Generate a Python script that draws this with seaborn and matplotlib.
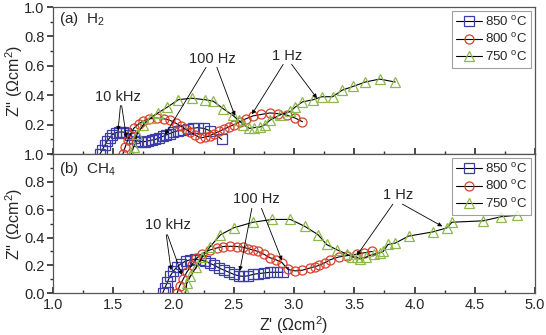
import matplotlib
matplotlib.use("Agg")
import matplotlib.pyplot as plt
import seaborn as sns
from matplotlib.ticker import MultipleLocator

# ---------------- data ----------------
# (a) H2
h2_850_x = [1.39,1.41,1.43,1.45,1.47,1.49,1.52,1.55,1.58,1.61,1.64,1.67,1.70,1.73,1.76,1.79,1.82,1.85,1.88,1.91,1.94,1.97,2.00,2.04,2.08,2.12,2.16,2.20,2.25,2.30,2.40]
h2_850_y = [0.0,0.03,0.06,0.09,0.11,0.13,0.145,0.15,0.15,0.145,0.13,0.11,0.09,0.085,0.085,0.09,0.095,0.10,0.11,0.12,0.13,0.14,0.15,0.16,0.165,0.17,0.175,0.18,0.175,0.16,0.10]
h2_800_x = [1.58,1.60,1.62,1.64,1.67,1.71,1.75,1.80,1.86,1.92,1.97,2.02,2.06,2.10,2.14,2.18,2.22,2.26,2.30,2.34,2.38,2.42,2.46,2.50,2.55,2.60,2.66,2.73,2.80,2.87,2.94,3.01,3.07]
h2_800_y = [0.0,0.05,0.095,0.13,0.175,0.205,0.225,0.24,0.245,0.24,0.23,0.21,0.19,0.17,0.15,0.13,0.11,0.115,0.125,0.14,0.155,0.17,0.185,0.20,0.22,0.24,0.26,0.27,0.28,0.275,0.265,0.245,0.22]
h2_750_x = [1.65,1.67,1.70,1.75,1.81,1.87,1.95,2.04,2.15,2.26,2.33,2.41,2.49,2.54,2.58,2.63,2.67,2.72,2.76,2.80,2.88,2.97,3.01,3.07,3.16,3.23,3.32,3.40,3.49,3.59,3.71,3.84]
h2_750_y = [0.0,0.05,0.14,0.20,0.245,0.28,0.32,0.37,0.38,0.37,0.36,0.31,0.265,0.23,0.20,0.175,0.18,0.185,0.20,0.23,0.265,0.29,0.32,0.355,0.37,0.39,0.39,0.435,0.46,0.49,0.51,0.49]

# (b) CH4
ch4_850_x = [1.91,1.93,1.95,1.97,2.00,2.03,2.06,2.10,2.14,2.18,2.22,2.26,2.30,2.34,2.38,2.42,2.46,2.50,2.54,2.58,2.62,2.66,2.70,2.75,2.80,2.86,2.91]
ch4_850_y = [0.0,0.04,0.08,0.12,0.16,0.19,0.21,0.23,0.24,0.245,0.24,0.23,0.215,0.20,0.18,0.165,0.15,0.135,0.125,0.12,0.125,0.135,0.14,0.145,0.15,0.15,0.15]
ch4_800_x = [2.03,2.05,2.08,2.11,2.15,2.19,2.24,2.30,2.36,2.41,2.47,2.53,2.58,2.62,2.66,2.70,2.75,2.80,2.85,2.90,2.95,3.01,3.07,3.13,3.17,3.21,3.26,3.30,3.37,3.44,3.52,3.58,3.65]
ch4_800_y = [0.0,0.05,0.10,0.15,0.20,0.25,0.285,0.31,0.325,0.335,0.337,0.335,0.33,0.32,0.31,0.30,0.28,0.255,0.24,0.22,0.17,0.16,0.165,0.18,0.19,0.20,0.22,0.24,0.26,0.27,0.28,0.29,0.30]
ch4_750_x = [2.10,2.11,2.14,2.19,2.24,2.30,2.39,2.50,2.66,2.82,2.97,3.09,3.20,3.27,3.36,3.44,3.48,3.52,3.55,3.60,3.66,3.71,3.74,3.78,3.84,3.95,4.15,4.27,4.31,4.57,4.72,4.85]
ch4_750_y = [0.0,0.07,0.12,0.19,0.26,0.33,0.42,0.47,0.51,0.53,0.53,0.48,0.42,0.35,0.31,0.28,0.26,0.26,0.245,0.26,0.28,0.29,0.30,0.35,0.36,0.41,0.44,0.47,0.51,0.52,0.55,0.56]

labels = ["850 $^\\mathrm{o}$C", "800 $^\\mathrm{o}$C", "750 $^\\mathrm{o}$C"]
colors = ["#3c3ca8", "#d8402c", "#8db84a"]
markers = ["s", "o", "^"]

# ---------------- style ----------------
sns.set_theme(style="ticks")
plt.rcParams["font.family"] = ["Liberation Sans", "DejaVu Sans"]
plt.rcParams["mathtext.fontset"] = "custom"
plt.rcParams["mathtext.rm"] = "Liberation Sans"
plt.rcParams["mathtext.it"] = "Liberation Sans:italic"

fig = plt.figure(figsize=(5.46, 3.35), dpi=100)
ax1 = fig.add_axes([0.097, 0.540, 0.883, 0.439])
ax2 = fig.add_axes([0.097, 0.125, 0.883, 0.415])

def draw(ax, series):
    for (xs, ys), lab, c, m in zip(series, labels, colors, markers):
        ms = 7.5 if m == "^" else 6.5
        sns.lineplot(x=xs, y=ys, ax=ax, sort=False, estimator=None,
                     color="black", lw=0.8, marker=m, markersize=ms,
                     markerfacecolor="none", markeredgecolor=c,
                     markeredgewidth=0.9, label=lab)
    ax.set_xlim(1.0, 5.0)
    ax.set_ylim(0.0, 1.0)
    ax.xaxis.set_major_locator(MultipleLocator(0.5))
    ax.xaxis.set_minor_locator(MultipleLocator(0.25))
    ax.yaxis.set_major_locator(MultipleLocator(0.2))
    ax.yaxis.set_minor_locator(MultipleLocator(0.1))
    ax.tick_params(axis="x", which="both", direction="in", labelsize=10.5, color="#333333")
    ax.tick_params(axis="x", which="major", length=4)
    ax.tick_params(axis="x", which="minor", length=2)
    ax.tick_params(axis="y", which="both", direction="out", labelsize=10.5, color="#333333", pad=2)
    ax.tick_params(axis="y", which="major", length=4)
    ax.tick_params(axis="y", which="minor", length=2)
    for s in ax.spines.values():
        s.set_color("#555555")
        s.set_linewidth(0.9)
    ax.set_ylabel("Z'' ($\\Omega$cm$^2$)", fontsize=11.5)
    ax.yaxis.set_label_coords(-0.058, 0.5)
    leg = ax.legend(loc="upper right", fontsize=9.5, frameon=True, fancybox=False,
                    borderaxespad=0.3, handlelength=2.0, handletextpad=0.2,
                    borderpad=0.3, labelspacing=0.25)
    leg.get_frame().set_edgecolor("#888888")
    leg.get_frame().set_linewidth(0.8)

draw(ax1, [(h2_850_x, h2_850_y), (h2_800_x, h2_800_y), (h2_750_x, h2_750_y)])
draw(ax2, [(ch4_850_x, ch4_850_y), (ch4_800_x, ch4_800_y), (ch4_750_x, ch4_750_y)])

ax1.set_xticklabels([])
ax1.set_xlabel("")
ax1.set_yticks([0.2, 0.4, 0.6, 0.8, 1.0])
ax2.set_xlabel("Z' ($\\Omega$cm$^2$)", fontsize=11.5, labelpad=2)

ax1.text(1.05, 0.92, "(a)  H$_2$", fontsize=11, va="center", ha="left")
ax2.text(1.05, 0.89, "(b)  CH$_4$", fontsize=11, va="center", ha="left")

arrow = dict(arrowstyle="-|>", color="black", lw=0.6, mutation_scale=6, shrinkA=0, shrinkB=0)

def note(ax, label, tx, ty, starts, ends):
    ax.text(tx, ty, label, fontsize=10.5, ha="center", va="center")
    for (sx, sy), (ex, ey) in zip(starts, ends):
        ax.annotate("", xy=(ex, ey), xytext=(sx, sy), arrowprops=arrow)

note(ax1, "10 kHz", 1.54, 0.39, [(1.56, 0.33), (1.57, 0.33)], [(1.54, 0.16), (1.61, 0.11)])
note(ax1, "100 Hz", 2.32, 0.645, [(2.27, 0.59), (2.36, 0.59)], [(1.93, 0.13), (2.51, 0.26)])
note(ax1, "1 Hz", 2.94, 0.665, [(2.91, 0.61), (2.98, 0.61)], [(2.65, 0.27), (3.19, 0.38)])

note(ax2, "10 kHz", 1.95, 0.49, [(1.94, 0.42), (1.95, 0.42)], [(1.98, 0.165), (2.07, 0.13)])
note(ax2, "100 Hz", 2.69, 0.68, [(2.65, 0.61), (2.73, 0.61)], [(2.55, 0.16), (2.90, 0.235)])
note(ax2, "1 Hz", 3.86, 0.705, [(3.82, 0.64), (3.90, 0.64)], [(3.52, 0.27), (4.23, 0.48)])

fig.savefig("out.png", dpi=100)
